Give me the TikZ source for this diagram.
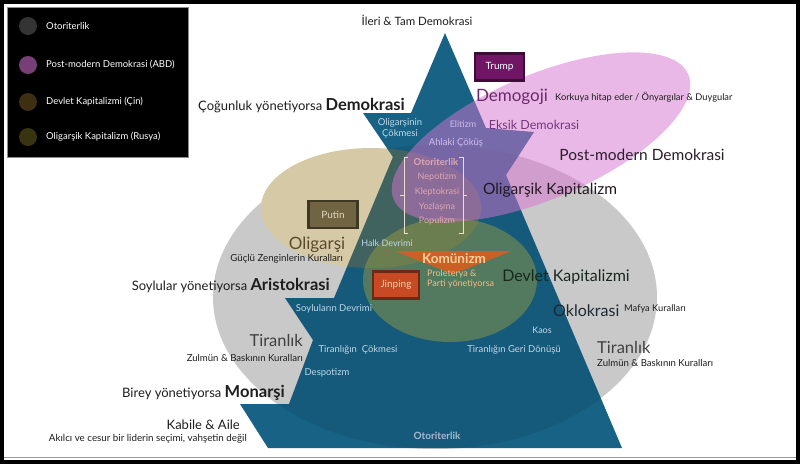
\documentclass[tikz,border=0pt]{standalone}
\usepackage{fontspec}
\setmainfont{Lato}
\usepackage{tikz}
\usetikzlibrary{calc,positioning}

\definecolor{pyrblue}{RGB}{23,98,133}
\definecolor{greyell}{RGB}{201,201,201}
\definecolor{beigeell}{RGB}{214,201,166}
\definecolor{ochre}{RGB}{160,128,50}
\definecolor{greenell}{RGB}{160,160,62}
\definecolor{pinkell}{RGB}{215,115,209}
\definecolor{komorange}{RGB}{214,94,32}
\definecolor{trumpc}{RGB}{112,22,100}
\definecolor{putinc}{RGB}{112,100,66}
\definecolor{jinc}{RGB}{200,74,36}
\definecolor{inblue}{RGB}{192,215,232}
\definecolor{lav}{RGB}{208,188,234}
\definecolor{dark}{RGB}{30,30,30}
\definecolor{demopurple}{RGB}{108,42,108}
\definecolor{brlist}{RGB}{222,168,178}
\definecolor{brline}{RGB}{235,222,205}

\tikzset{
  fs/.style={font=\fontsize{#1}{#1}\selectfont},
  tx/.style={inner sep=0pt,text=dark},
  intx/.style={inner sep=0pt,text=inblue},
  namebox/.style={draw=#1!55!black,fill=#1,line width=2.2pt,minimum width=49pt,minimum height=27pt,inner sep=0pt},
  leg/.style={circle,inner sep=0pt,minimum size=18pt},
}

\def\pyrpath{(445,33) -- (486,128) -- (534,132) -- (506,175) -- (622,448) -- (268,448) -- (240,404) -- (289,404) -- (313,340) -- (285,298) -- (334,298) -- (393,157) -- (363,113) -- (411,113) -- cycle}

\begin{document}
\begin{tikzpicture}[x=1pt,y=-1pt]
              \useasboundingbox (0,0) rectangle (800,464);
              \fill[white] (0,0) rectangle (800,464);
              \fill[greyell] (435,297) ellipse (222 and 152);
              \fill[beigeell] (371,208) ellipse (110 and 60);
              \fill[pyrblue] \pyrpath;
              \begin{scope}
                \clip \pyrpath;
                \fill[ochre,opacity=.35] (371,208) ellipse (110 and 60);
                \fill[black,opacity=.08] (435,297) ellipse (222 and 152);
              \end{scope}
              \fill[greenell,opacity=.45] (450,280) ellipse (87 and 62);
              \fill[pinkell,opacity=.5,rotate around={23:(541,137)}] (541,137) ellipse (160 and 62);
              \fill[komorange,opacity=.92] (395,251) -- (512,251) -- (453,274) -- cycle;
              \draw[brline,line width=.9pt] (408,157) -- (404,157) -- (404,233) -- (408,233) (404,195) -- (400,195);
              \draw[brline,line width=.9pt] (459,157) -- (463,157) -- (463,233) -- (459,233) (463,195) -- (467,195);

              \node[namebox=trumpc,text=white,fs=10] (trump) at (499.5,67) {Trump};
              \node[namebox=putinc,text={rgb,255:red,225;green,215;blue,190},fs=10] (putin) at (333,214.5) {Putin};
              \node[namebox=jinc,minimum width=46pt,text={rgb,255:red,242;green,205;blue,175},fs=10] (jinping) at (396,285) {Jinping};

              \node[tx,fs=11.5] (ileri) at (417,20) {İleri \& Tam Demokrasi};
              \node[tx,anchor=base east] (demokrasi) at (405,110) {\fontsize{13}{13}\selectfont Çoğunluk yönetiyorsa \fontsize{16.5}{16.5}\selectfont\textbf{Demokrasi}};
              \node[intx,fs=9.5,align=center] (olcok) at (400,128) {Oligarşinin\\[1.5pt]Çökmesi};
              \node[inner sep=0pt,text=lav,fs=9] (elitizm) at (463,124) {Elitizm};
              \node[inner sep=0pt,text={rgb,255:red,115;green,55;blue,125},fs=12.5] (eksik) at (534,125) {Eksik Demokrasi};
              \node[inner sep=0pt,text=lav,fs=9.5] (ahlaki) at (456,143) {Ahlaki Çöküş};
              \node[inner sep=0pt,text=demopurple,fs=17] (demogoji) at (512,97) {Demogoji};
              \node[tx,fs=9.3,anchor=west] (korku) at (555,97) {Korkuya hitap eder / Önyargılar \& Duygular};
              \node[inner sep=0pt,text={rgb,255:red,45;green,30;blue,45},fs=15.5] (postmod) at (642,155) {Post-modern Demokrasi};
              \node[inner sep=0pt,text={rgb,255:red,35;green,25;blue,35},fs=15.5] (olkap) at (550,190) {Oligarşik Kapitalizm};

              \node[inner sep=0pt,text=brlist,fs=9.5] (otor) at (436,162) {\textbf{Otoriterlik}};
              \node[inner sep=0pt,text=brlist,fs=9] (nepo) at (437,177) {Nepotizm};
              \node[inner sep=0pt,text=brlist,fs=9] (klep) at (437,192) {Kleptokrasi};
              \node[inner sep=0pt,text=brlist,fs=9] (yoz) at (437,207) {Yozlaşma};
              \node[inner sep=0pt,text=brlist,fs=9] (popu) at (437,221) {Populizm};

              \node[inner sep=0pt,text={rgb,255:red,90;green,75;blue,45},fs=17] (oligarsi) at (317,245) {Oligarşi};
              \node[tx,fs=9.7,anchor=east] (guclu) at (343,259) {Güçlü Zenginlerin Kuralları};
              \node[intx,fs=9] (halk) at (387,243) {Halk Devrimi};
              \node[inner sep=0pt,text={rgb,255:red,248;green,208;blue,158},fs=13.5] (komunizm) at (454,259) {\textbf{Komünizm}};
              \node[inner sep=0pt,text={rgb,255:red,240;green,190;blue,140},fs=9,align=left,anchor=west] (prol) at (427,279) {Proleterya \&\\[1.5pt]Parti yönetiyorsa};
              \node[inner sep=0pt,text={rgb,255:red,25;green,40;blue,30},fs=16] (devlet) at (566,277) {Devlet Kapitalizmi};

              \node[tx,anchor=base east] (aristo) at (330,290) {\fontsize{13}{13}\selectfont Soylular yönetiyorsa \fontsize{16.5}{16.5}\selectfont\textbf{Aristokrasi}};
              \node[intx,fs=9.5] (soylu) at (334,309) {Soyluların Devrimi};
              \node[inner sep=0pt,text=black!75,fs=16.5,anchor=east] (tiranL) at (303,340) {Tiranlık};
              \node[tx,fs=9.6,anchor=east] (zulmL) at (303,358) {Zulmün \& Baskının Kuralları};
              \node[intx,fs=9.5] (ticok) at (358,350) {Tiranlığın~~Çökmesi};
              \node[intx,fs=9.5] (despot) at (327,373) {Despotizm};
              \node[tx,anchor=base east] (monarsi) at (285,397) {\fontsize{13}{13}\selectfont Birey yönetiyorsa \fontsize{16.5}{16.5}\selectfont\textbf{Monarşi}};
              \node[tx,fs=13,anchor=east] (kabile) at (240,425) {Kabile \& Aile};
              \node[tx,fs=9.8,anchor=east] (akilci) at (247,439) {Akılcı ve cesur bir liderin seçimi, vahşetin değil};
              \node[inner sep=0pt,text={rgb,255:red,165;green,186;blue,206},fs=10] (otorB) at (437,436) {\textbf{Otoriterlik}};

              \node[inner sep=0pt,text={rgb,255:red,30;green,40;blue,50},fs=16,anchor=west] (oklo) at (553,311) {Oklokrasi};
              \node[tx,fs=9.3,anchor=west] (mafya) at (624,309) {Mafya Kuralları};
              \node[intx,fs=9] (kaos) at (542,330) {Kaos};
              \node[intx,fs=9.5] (geri) at (514,350) {Tiranlığın Geri Dönüşü};
              \node[inner sep=0pt,text=black!75,fs=16.5,anchor=west] (tiranR) at (597,347) {Tiranlık};
              \node[tx,fs=9.6,anchor=west] (zulmR) at (597,363) {Zulmün \& Baskının Kuralları};

              \fill[black] (7,7) rectangle (188,157);
              \draw[black!45,line width=.6pt] (7,7) rectangle (188,157);
              \node[leg,fill={rgb,255:red,52;green,52;blue,52}] (c1) at (28,26) {};
              \node[leg,fill={rgb,255:red,120;green,62;blue,118}] (c2) at (28,65) {};
              \node[leg,fill={rgb,255:red,62;green,46;blue,18}] (c3) at (28,102) {};
              \node[leg,fill={rgb,255:red,56;green,52;blue,16}] (c4) at (28,137) {};
              \node[inner sep=0pt,text=white,fs=9.5,anchor=west] (l1) at (46,26) {Otoriterlik};
              \node[inner sep=0pt,text=white,fs=9.5,anchor=west] (l2) at (46,65) {Post-modern Demokrasi (ABD)};
              \node[inner sep=0pt,text=white,fs=9.5,anchor=west] (l3) at (46,102) {Devlet Kapitalizmi (Çin)};
              \node[inner sep=0pt,text=white,fs=9.5,anchor=west] (l4) at (46,137) {Oligarşik Kapitalizm (Rusya)};

              \draw[black!40,line width=.8pt] (3,457) -- (797,457);
              \draw[black,line width=4pt] (2,2) rectangle (798,462);
\end{tikzpicture}
\end{document}
